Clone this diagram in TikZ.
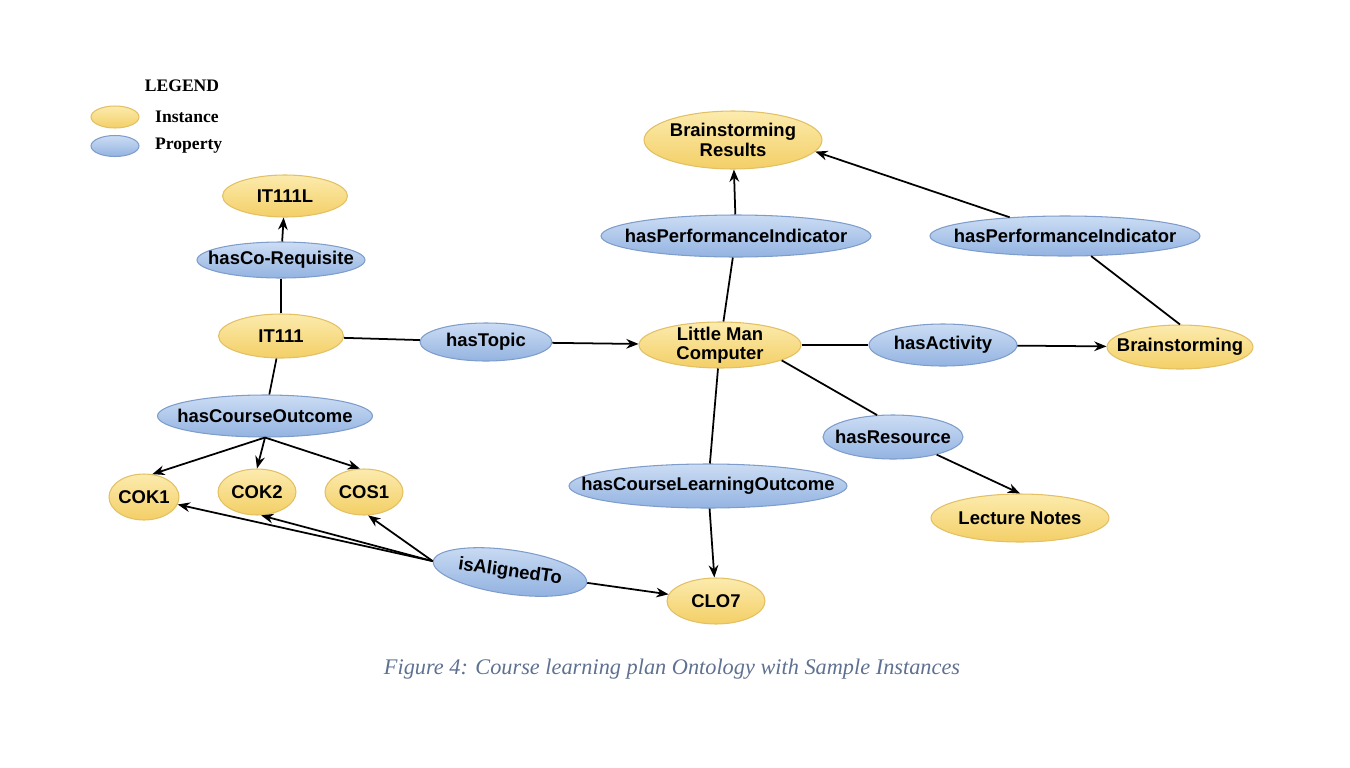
\documentclass[tikz,border=0pt]{standalone}
\usepackage{fontspec}
\setmainfont{Liberation Serif}
\setsansfont{Liberation Sans}
\usetikzlibrary{shapes.geometric, arrows.meta}

\definecolor{instTop}{HTML}{FCEBAE}
\definecolor{instBot}{HTML}{F3CF66}
\definecolor{instLine}{HTML}{E2C063}
\definecolor{propTop}{HTML}{CCDDF4}
\definecolor{propBot}{HTML}{93B3E1}
\definecolor{propLine}{HTML}{7E9DCB}
\definecolor{capText}{HTML}{5F7191}

\tikzset{
    lbl/.style={font=\sffamily\bfseries\fontsize{10.5}{11}\selectfont, align=center, inner sep=0pt},
    inst/.style={ellipse, draw=instLine, line width=0.6pt, top color=instTop, bottom color=instBot,
        inner sep=0pt, label={[lbl]center:#1}},
    inst/.default={},
    prop/.style={ellipse, draw=propLine, line width=0.6pt, top color=propTop, bottom color=propBot,
        inner sep=0pt, label={[lbl]center:#1}},
    prop/.default={},
    sz/.style 2 args={minimum width=#1cm, minimum height=#2cm},
    link/.style={line width=1pt},
    rel/.style={line width=1pt, -{Stealth[length=7pt, width=5.5pt]}},
    leg/.style={font=\rmfamily\bfseries\fontsize{10}{11}\selectfont}
}

\begin{document}
\begin{tikzpicture}[x=0.02cm, y=-0.02cm]
    \useasboundingbox (0,0) rectangle (1350,768);

    % legend
    \node[leg] (legend) at (182,86) {LEGEND};
    \node[inst, sz={0.96}{0.44}] (legi) at (115,117) {};
    \node[prop, sz={0.96}{0.42}] (legp) at (115,146) {};
    \node[leg, anchor=west] (legit) at (149,117) {Instance};
    \node[leg, anchor=west] (legpt) at (149,146) {Property};

    % course side
    \node[inst=IT111L, sz={2.5}{0.84}] (it111l) at (285,196) {};
    \node[prop=hasCo-Requisite, sz={3.36}{0.72}] (hcr) at (281,260) {};
    \node[inst=IT111, sz={2.5}{0.88}] (it111) at (281,336) {};
    \node[prop=hasCourseOutcome, sz={4.3}{0.84}] (hco) at (265,416) {};
    \node[inst=COK1, sz={1.4}{0.92}] (cok1) at (144,497) {};
    \node[inst=COK2, sz={1.56}{0.92}] (cok2) at (257,492) {};
    \node[inst=COS1, sz={1.56}{0.92}] (cos1) at (364,492) {};
    \node[prop, sz={3.1}{0.88}, rotate=-8,
        label={[lbl, rotate=-8]center:isAlignedTo}] (ali) at (510,572) {};
    \node[inst=CLO7, sz={1.96}{0.92}] (clo7) at (716,601) {};

    % topic side
    \node[prop=hasTopic, sz={2.64}{0.76}] (htop) at (486,342) {};
    \node[inst={Little Man\\Computer}, sz={3.24}{0.92}] (lmc) at (720,345) {};
    \node[inst={Brainstorming\\Results}, sz={3.56}{1.16}] (brr) at (733,140) {};
    \node[prop=hasPerformanceIndicator, sz={5.4}{0.84}] (hpi1) at (736,236) {};
    \node[prop=hasPerformanceIndicator, sz={5.4}{0.8}] (hpi2) at (1065,236) {};
    \node[prop=hasActivity, sz={2.96}{0.84}] (hact) at (943,345) {};
    \node[inst=Brainstorming, sz={2.92}{0.88}] (brs) at (1180,347) {};
    \node[prop=hasResource, sz={2.8}{0.88}] (hres) at (893,437) {};
    \node[inst=Lecture Notes, sz={3.56}{0.96}] (lnotes) at (1020,518) {};
    \node[prop=hasCourseLearningOutcome, sz={5.56}{0.88}] (hclo) at (708,486) {};

    % connectors
    \draw[link] (it111) -- (hcr);
    \draw[rel] (hcr) -- (it111l);
    \draw[link] (it111) -- (hco);
    \draw[rel] (hco.south) -- (cok1.70);
    \draw[rel] (hco.south) -- (cok2.north);
    \draw[rel] (hco.south) -- (cos1.100);
    \draw[rel] (ali.west) -- (cok1);
    \draw[rel] (ali.west) -- (cok2.-80);
    \draw[rel] (ali.west) -- (cos1.-80);
    \draw[rel] (ali.east) -- (clo7);
    \draw[link] (it111) -- (htop);
    \draw[rel] (htop) -- (lmc);
    \draw[link] (lmc) -- (hpi1);
    \draw[rel] (hpi1) -- (brr);
    \draw[link] (lmc) -- (hact);
    \draw[rel] (hact) -- (brs);
    \draw[link] (brs.north) -- (hpi2);
    \draw[rel] (hpi2) -- (brr.-8);
    \draw[link] (lmc.-14) -- (hres.126);
    \draw[rel] (hres.-22) -- (lnotes.north);
    \draw[link] (lmc) -- (hclo);
    \draw[rel] (hclo) -- (clo7);

    % caption
    \node[font=\rmfamily\itshape\fontsize{12.7}{15}\selectfont, text=capText] (cap) at (672,669)
        {Figure 4: Course learning plan Ontology with Sample Instances};
\end{tikzpicture}
\end{document}
